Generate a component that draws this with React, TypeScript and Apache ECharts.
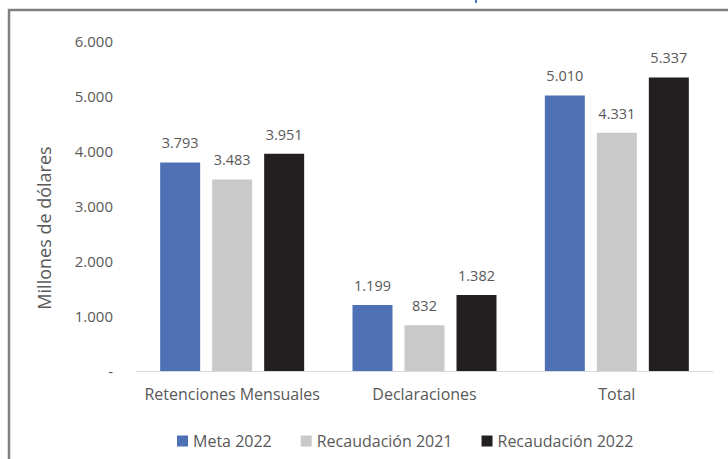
import React, { useEffect, useRef } from "react";
import * as echarts from "echarts";

const categories = ["Retenciones Mensuales", "Declaraciones", "Total"];
const seriesNames = ["Meta 2022", "Recaudación 2021", "Recaudación 2022"];
const meta2022 = [3793, 1199, 5010];
const recaudacion2021 = [3483, 832, 4331];
const recaudacion2022 = [3951, 1382, 5337];
const colors = ["#4e71b6", "#c9c9c9", "#231f20"];
const yTicks = { min: 0, max: 6000, interval: 1000 };
const yTitle = "Millones de dólares";

const fmt = (v: number) => {
  if (v === 0) return "-";
  return String(Math.round(v)).replace(/\B(?=(\d{3})+(?!\d))/g, ".");
};

const FONT = "Open Sans";

export default function App() {
  const ref = useRef<HTMLDivElement>(null);
  useEffect(() => {
    if (!ref.current) return;
    const chart = echarts.init(ref.current, null, { renderer: "svg" });
    const data = [meta2022, recaudacion2021, recaudacion2022];
    chart.setOption({
      animation: false,
      backgroundColor: "#ffffff",
      textStyle: { fontFamily: FONT },
      grid: { left: 136, right: 15, top: 41, bottom: 88, containLabel: false },
      legend: {
        left: 172,
        top: 428,
        itemWidth: 11,
        itemHeight: 11,
        itemGap: 29,
        icon: "rect",
        textStyle: { color: "#595959", fontSize: 16, fontFamily: FONT },
        data: seriesNames,
      },
      xAxis: {
        type: "category",
        data: categories,
        axisLine: { lineStyle: { color: "#d9d9d9", width: 1 } },
        axisTick: { show: false },
        axisLabel: { color: "#595959", fontSize: 16, margin: 15, interval: 0, hideOverlap: false, fontFamily: FONT },
      },
      yAxis: {
        type: "value",
        min: yTicks.min,
        max: yTicks.max,
        interval: yTicks.interval,
        axisLine: { show: false },
        axisTick: { show: false },
        splitLine: { show: false },
        axisLabel: { color: "#595959", fontSize: 15, margin: 23, formatter: fmt, fontFamily: FONT },
      },
      series: seriesNames.map((name, i) => ({
        name,
        type: "bar",
        data: data[i],
        barWidth: 40,
        barGap: "30%",
        itemStyle: { color: colors[i] },
        label: {
          show: true,
          position: "top",
          distance: 12,
          color: "#595959",
          fontSize: 14.5,
          fontFamily: FONT,
          formatter: (p: any) => fmt(p.value),
        },
      })),
      graphic: [
        {
          type: "rect",
          shape: { x: 9, y: 10, width: 800, height: 500 },
          style: { fill: "none", stroke: "#7f7f7f", lineWidth: 2.5 },
          silent: true,
        },
        {
          type: "rect",
          shape: { x: 475, y: 0, width: 2, height: 3 },
          style: { fill: "#4472c4" },
          silent: true,
        },
        {
          type: "text",
          x: 44,
          y: 228,
          rotation: Math.PI / 2,
          style: {
            text: yTitle,
            fill: "#595959",
            font: `18px "${FONT}"`,
            align: "center",
            verticalAlign: "middle",
          },
          silent: true,
        },
      ],
    });
    return () => chart.dispose();
  }, []);
  return (
    <div
      ref={ref}
      style={{ position: "fixed", left: 0, top: 0, width: 728, height: 459 }}
    />
  );
}
